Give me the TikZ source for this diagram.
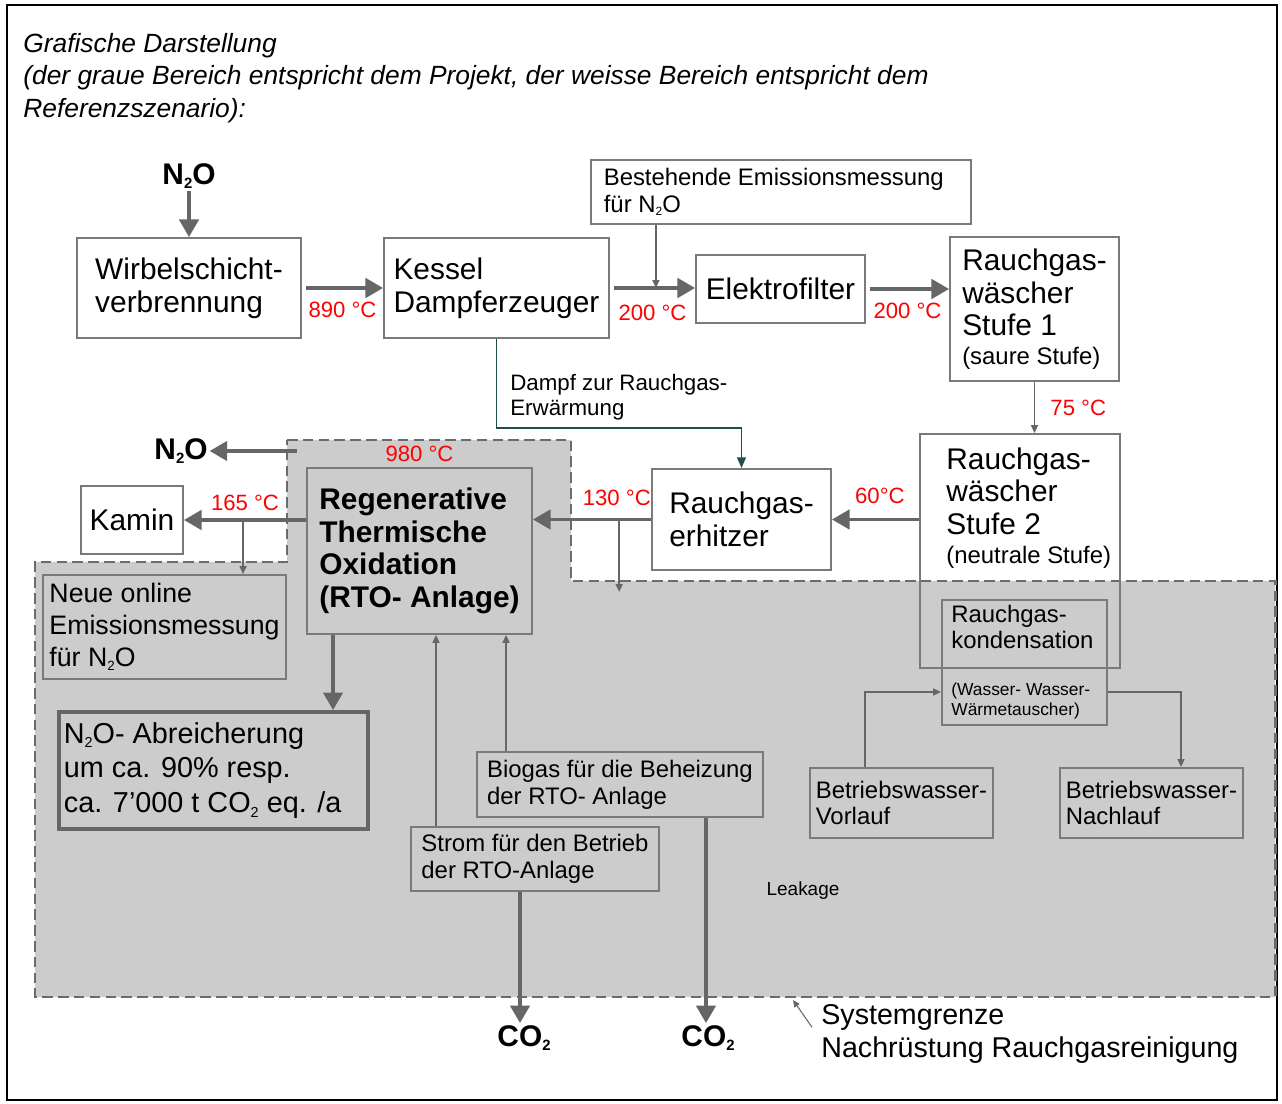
\documentclass[tikz,border=0pt]{standalone}
\usepackage{fontspec}
\setmainfont{Liberation Sans}
\usetikzlibrary{arrows.meta}

\definecolor{boxgray}{HTML}{7A7A7A}
\definecolor{arrowgray}{HTML}{666666}
\definecolor{dashgray}{HTML}{6B6B6B}
\definecolor{areagray}{HTML}{CCCCCC}
\definecolor{dampfgreen}{HTML}{1F4E4B}
\definecolor{tempred}{HTML}{FF0000}

\newcommand\bigf{\fontsize{17}{18.6}\selectfont}
\newcommand\midf{\fontsize{13.6}{15.3}\selectfont}
\newcommand\tempf{\fontsize{12.6}{14}\selectfont}
\newcommand\titelf{\fontsize{15}{18.4}\selectfont}
\newcommand\neuef{\fontsize{15.2}{18.1}\selectfont}
\newcommand\kleinf{\fontsize{10.8}{12.5}\selectfont}
\newcommand\winzigf{\fontsize{9.9}{11.9}\selectfont}
\newcommand\grenzef{\fontsize{16.3}{18.7}\selectfont}
\newcommand\dampff{\fontsize{12.7}{14.2}\selectfont}
% small low index as in the original
\newcommand\tief[1]{\raisebox{-0.3ex}{\scalebox{0.5}{#1}}}

\begin{document}
\begin{tikzpicture}[x=0.02cm,y=-0.02cm]
\tikzstyle{every node}=[font=\bigf, text=black]
\tikzstyle{box}=[draw=boxgray, line width=1.1pt, fill=white, align=left, inner sep=0pt]
\tikzstyle{graubox}=[box, fill=none]
\tikzstyle{temp}=[text=tempred, font=\tempf, inner sep=1pt]
\tikzstyle{stoff}=[font=\bigf\bfseries, inner sep=1pt]
\tikzstyle{bigarrow}=[->, >={Triangle[length=10pt,width=11pt]}, draw=arrowgray, line width=2pt]
\tikzstyle{smallarrow}=[->, >={Triangle[length=4.5pt,width=4pt]}, draw=arrowgray, line width=0.8pt]

\useasboundingbox (0,0) rectangle (1282,1104);
\draw[black, line width=1.6pt] (7,5) rectangle (1277,1100);

% grey area = project
\draw[fill=areagray, draw=dashgray, line width=1.7pt, dash pattern=on 6pt off 3pt]
(287,440) -- (571,440) -- (571,581) -- (1275,581) -- (1275,997) -- (35,997) -- (35,562) -- (287,562) -- cycle;

\node[anchor=west, align=left, inner sep=0pt, font=\titelf\itshape] (titel) at (23,78)
  {Grafische Darstellung\\(der graue Bereich entspricht dem Projekt, der weisse Bereich entspricht dem\\Referenzszenario):};

% boxes, upper row
\node[box, minimum width=4.48cm, minimum height=2cm] (wirbel) at (189,288) {Wirbelschicht-\\verbrennung};
\node[box, minimum width=4.5cm, minimum height=2cm] (kessel) at (496.5,288) {Kessel\\Dampferzeuger};
\node[box, minimum width=7.6cm, minimum height=1.28cm, font=\midf] (bestehend) at (781,192)
  {Bestehende Emissionsmessung\hspace*{0.6em}\\für N\tief{2}O};
\node[box, minimum width=3.38cm, minimum height=1.36cm] (elektro) at (780.5,289) {Elektrofilter};
\node[box, minimum width=3.38cm, minimum height=2.88cm] (stufe1) at (1034.5,309)
  {Rauchgas-\\wäscher\\Stufe 1\\[-2.5pt]{\midf(saure Stufe)}};

% boxes, middle row
\node[graubox, minimum width=4cm, minimum height=4.68cm] (stufe2) at (1020,551) {};
\node[align=left, inner sep=0pt, anchor=west] (stufe2txt) at (946,508)
  {Rauchgas-\\wäscher\\Stufe 2\\[-2pt]{\midf(neutrale Stufe)}};
\node[box, minimum width=3.58cm, minimum height=2.02cm] (erhitzer) at (741.5,519.5) {Rauchgas-\\erhitzer};
\node[box, fill=areagray, minimum width=4.5cm, minimum height=3.32cm, font=\bigf\bfseries] (rto) at (419.5,551)
  {Regenerative\\Thermische\\Oxidation\\(RTO- Anlage)};
\node[box, minimum width=2.04cm, minimum height=1.36cm] (kamin) at (132,520) {Kamin};

% boxes in the grey area
\node[graubox, minimum width=4.86cm, minimum height=2.08cm, font=\neuef] (neue) at (164.5,627)
  {Neue online\\Emissionsmessung\\für N\tief{2}O};
\node[graubox, draw=arrowgray, line width=2.2pt, minimum width=6.18cm, minimum height=2.34cm,
  font=\fontsize{16.4}{19.8}\selectfont] (abreich) at (213.5,770.5)
  {N\tief{2}O- Abreicherung\\um ca. 90\% resp.\\ca. 7’000 t CO\tief{2} eq. /a\hspace*{0.75em}};
\node[graubox, minimum width=5.72cm, minimum height=1.3cm, font=\midf] (biogas) at (620,784.5)
  {Biogas für die Beheizung\\der RTO- Anlage};
\node[graubox, minimum width=4.96cm, minimum height=1.28cm, font=\midf] (strom) at (535,859)
  {Strom für den Betrieb\\der RTO-Anlage};
\node[graubox, minimum width=3.3cm, minimum height=2.5cm] (kondens) at (1024.5,662.5) {};
\node[align=left, inner sep=0pt, anchor=west, font=\midf] (kondtxt) at (951,627) {Rauchgas-\\kondensation};
\node[align=left, inner sep=0pt, anchor=west, font=\winzigf] (waerme) at (951,701) {(Wasser- Wasser-\\Wärmetauscher)};
\node[graubox, minimum width=3.66cm, minimum height=1.4cm, font=\midf] (vorlauf) at (901.5,803)
  {Betriebswasser-\\Vorlauf};
\node[graubox, minimum width=3.66cm, minimum height=1.4cm, font=\midf] (nachlauf) at (1151.5,803)
  {Betriebswasser-\\Nachlauf};
\node[font=\kleinf, inner sep=0pt] (leakage) at (803,891) {Leakage};

% substances
\node[stoff] (n2oein) at (189,176) {N\tief{2}O};
\node[stoff] (n2oaus) at (181,451) {N\tief{2}O};
\node[stoff] (co2a) at (524,1038) {CO\tief{2}};
\node[stoff] (co2b) at (708,1038) {CO\tief{2}};

\node[align=left, inner sep=0pt, anchor=west, font=\grenzef] (grenze) at (821,1034)
  {Systemgrenze\\Nachrüstung Rauchgasreinigung};
\node[align=left, inner sep=0pt, anchor=west, font=\dampff] (dampftxt) at (510,397)
  {Dampf zur Rauchgas-\\Erwärmung};

% flue gas path
\draw[bigarrow] (n2oein) -- (wirbel.north);
\draw[bigarrow, shorten <=0.08cm] (wirbel.east) -- (kessel.west)
  node[temp, midway, below=0.22cm] (t890) {890 °C};
\draw[bigarrow, shorten <=0.08cm] (kessel.east) -- coordinate[pos=0.54] (mess1) (kessel.east -| elektro.west)
  node[temp, pos=0.5, below=0.28cm] (t200a) {200 °C};
\draw[bigarrow, shorten <=0.08cm] (elektro.east) -- (elektro.east -| stufe1.west)
  node[temp, midway, below=0.22cm] (t200b) {200 °C};
\draw[smallarrow] (stufe1.south) -- (stufe1.south |- stufe2.north)
  node[temp, midway, right=0.27cm] (t75) {75 °C};
\draw[bigarrow] (stufe2.west |- erhitzer.east) -- (erhitzer.east)
  node[temp, pos=0.45, above=0.25cm] (t60) {60°C};
\draw[bigarrow] (erhitzer.west) -- coordinate[pos=0.27] (m130) (erhitzer.west -| rto.east)
  node[temp, pos=0.29, above=0.2cm] (t130) {130 °C};
\draw[bigarrow] (kamin.east -| rto.west) -- coordinate[pos=0.516] (m165) (kamin.east)
  node[temp, pos=0.5, above=0.12cm] (t165) {165 °C};
\node[temp, above=0.06cm] (t980) at (rto.north) {980 °C};

% measurements
\draw[smallarrow] (bestehend.south -| mess1) -- (mess1);
\coordinate (m130ende) at (620,592);
\draw[smallarrow] (m130) -- (m130 |- m130ende);
\draw[smallarrow] (m165) -- (m165 |- neue.north);

% steam
\draw[dampfgreen, line width=0.9pt, -{Triangle[length=6pt,width=5pt]}]
  (kessel.south) -- ++(0,89) -| (erhitzer.north);

% N2O out
\coordinate (n2oquelle) at (297,451);
\draw[bigarrow] (n2oquelle) -- (n2oaus.east);

% RTO in and out
\coordinate (rtofuss) at ([xshift=-1.73cm]rto.south);
\draw[bigarrow] (rtofuss) -- (rtofuss |- abreich.north);
\coordinate (stromkopf) at ([xshift=-1.98cm]strom.north);
\draw[smallarrow] (stromkopf) -- (stromkopf |- rto.south);
\coordinate (biogaskopf) at ([xshift=-2.28cm]biogas.north);
\draw[smallarrow] (biogaskopf) -- (biogaskopf |- rto.south);
\coordinate (stromfuss) at ([xshift=-0.3cm]strom.south);
\draw[bigarrow] (stromfuss) -- (stromfuss |- co2a.north);
\coordinate (biogasfuss) at ([xshift=1.72cm]biogas.south);
\draw[bigarrow] (biogasfuss) -- (biogasfuss |- co2b.north);

% process water
\coordinate (kondensein) at ([yshift=-1.86cm]kondens.north west);
\coordinate (kondensaus) at ([yshift=-1.86cm]kondens.north east);
\draw[smallarrow] ([xshift=-0.73cm]vorlauf.north) |- (kondensein);
\draw[smallarrow] (kondensaus) -| ([xshift=0.59cm]nachlauf.north);

% system boundary
\coordinate (grenzept) at (793,1000);
\draw[arrowgray, line width=0.6pt, -{Triangle[length=4pt,width=3.5pt]}]
  ([xshift=-0.18cm,yshift=-0.46cm]grenze.north west) -- (grenzept);
\end{tikzpicture}
\end{document}
